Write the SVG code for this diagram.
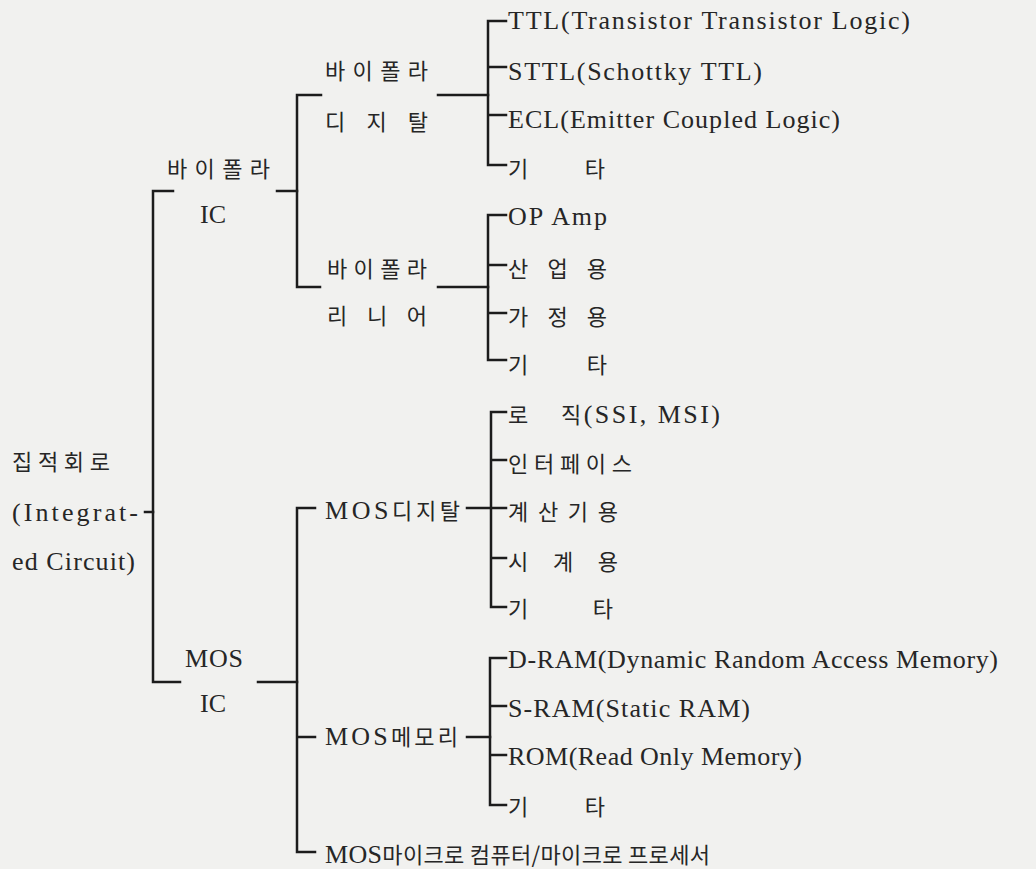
<svg xmlns="http://www.w3.org/2000/svg" width="1036" height="869" viewBox="0 0 1036 869">
<style>
.bg{fill:#f1f1ef}
.ln{stroke:#1c1c1c;stroke-width:2.5;fill:none;stroke-linecap:square}
.t{font-family:'Liberation Serif','Noto Sans CJK KR',serif;font-size:26px;fill:#262626}
.k{font-family:'Noto Sans CJK KR','Liberation Sans',sans-serif;font-size:22px}
</style>
<rect class="bg" x="0" y="0" width="1036" height="869"/>
<g id="connectors">
<path class="ln" d="M173,191 H153 V682 H180"/>
<path class="ln" d="M145,512 H153"/>
<path class="ln" d="M277,191 H297"/>
<path class="ln" d="M321,95 H297 V287 H320"/>
<path class="ln" d="M438,95 H488"/>
<path class="ln" d="M506,21 H488 V165 H506 M488,67 H506 M488,115 H506"/>
<path class="ln" d="M438,287 H488"/>
<path class="ln" d="M506,215 H488 V360 H506 M488,265 H506 M488,313 H506"/>
<path class="ln" d="M258,682 H297"/>
<path class="ln" d="M315,508 H297 V852 H315 M297,737 H315"/>
<path class="ln" d="M467,508 H506"/>
<path class="ln" d="M506,412 H491 V607 H506 M491,460 H506 M491,558 H506"/>
<path class="ln" d="M467,737 H490"/>
<path class="ln" d="M506,658 H490 V805 H506 M490,706 H506 M490,755 H506"/>
</g>
<g id="root">
<text class="t k" x="12" y="470" textLength="98">집적회로</text>
<text class="t" x="12" y="521" textLength="126">(Integrat-</text>
<text class="t" x="12" y="570" textLength="123">ed Circuit)</text>
</g>
<g id="bipolar-ic">
<text class="t k" x="167" y="177" textLength="103">바이폴라</text>
<text class="t" x="200" y="223">IC</text>
</g>
<g id="mos-ic">
<text class="t" x="185" y="667" textLength="58">MOS</text>
<text class="t" x="200" y="712">IC</text>
</g>
<g id="bipolar-digital">
<text class="t k" x="325" y="79" textLength="103">바이폴라</text>
<text class="t k" x="325" y="130" textLength="103">디 지 탈</text>
</g>
<g id="bipolar-linear">
<text class="t k" x="327" y="277" textLength="100">바이폴라</text>
<text class="t k" x="327" y="324" textLength="100">리 니 어</text>
</g>
<g id="mos-digital">
<text class="t" x="325" y="519" textLength="135">MOS<tspan class="k">디지탈</tspan></text>
</g>
<g id="mos-memory">
<text class="t" x="325" y="745" textLength="133">MOS<tspan class="k">메모리</tspan></text>
</g>
<g id="mos-micro">
<text class="t" x="325" y="863" textLength="385">MOS<tspan class="k">마이크로 컴퓨터/마이크로 프로세서</tspan></text>
</g>
<g id="ttl"><text class="t" x="508" y="29" textLength="402">TTL(Transistor Transistor Logic)</text></g>
<g id="sttl"><text class="t" x="508" y="80" textLength="254">STTL(Schottky TTL)</text></g>
<g id="ecl"><text class="t" x="508" y="128" textLength="332">ECL(Emitter Coupled Logic)</text></g>
<g id="bd-etc"><text class="t k" x="508" y="177" textLength="97">기 타</text></g>
<g id="opamp"><text class="t" x="508" y="225" textLength="99">OP Amp</text></g>
<g id="industrial"><text class="t k" x="508" y="277" textLength="99">산 업 용</text></g>
<g id="consumer"><text class="t k" x="508" y="325" textLength="99">가 정 용</text></g>
<g id="bl-etc"><text class="t k" x="508" y="373" textLength="99">기 타</text></g>
<g id="logic"><text class="t k" x="508" y="423">로</text><text class="t" x="561" y="423" textLength="159"><tspan class="k">직</tspan>(SSI, MSI)</text></g>
<g id="interface"><text class="t k" x="508" y="472" textLength="124">인터페이스</text></g>
<g id="calculator"><text class="t k" x="508" y="520" textLength="110">계산기용</text></g>
<g id="clock"><text class="t k" x="508" y="570" textLength="110">시 계 용</text></g>
<g id="md-etc"><text class="t k" x="508" y="617" textLength="105">기 타</text></g>
<g id="dram"><text class="t" x="508" y="668" textLength="490">D-RAM(Dynamic Random Access Memory)</text></g>
<g id="sram"><text class="t" x="508" y="717" textLength="242">S-RAM(Static RAM)</text></g>
<g id="rom"><text class="t" x="508" y="765" textLength="294">ROM(Read Only Memory)</text></g>
<g id="mm-etc"><text class="t k" x="508" y="815" textLength="97">기 타</text></g>
</svg>
